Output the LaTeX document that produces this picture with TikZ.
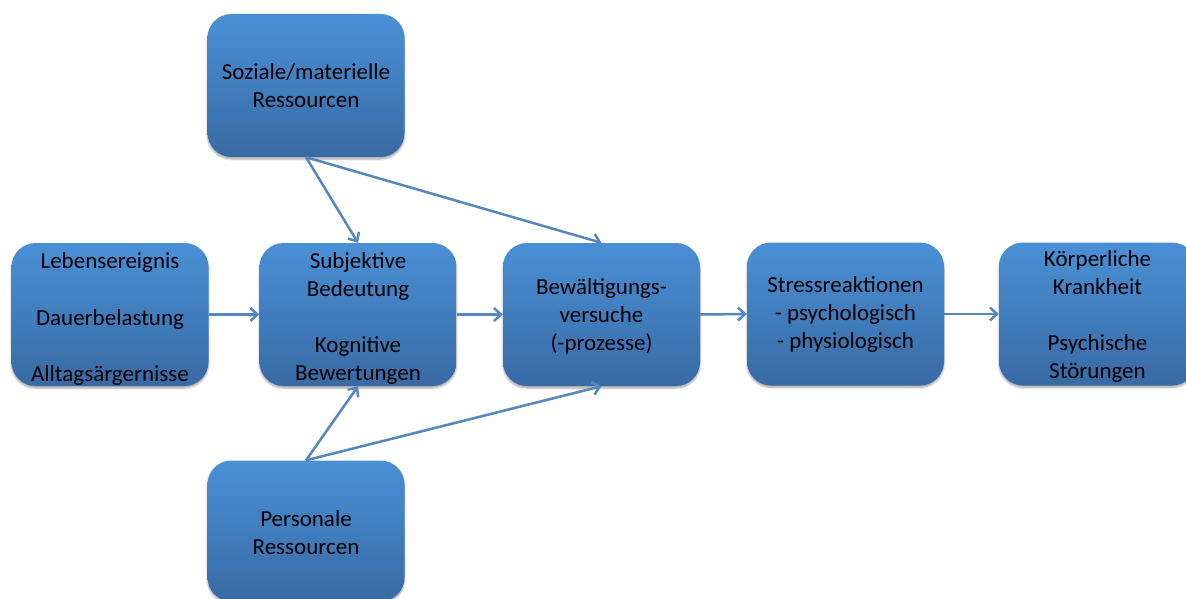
\documentclass[tikz,border=0pt]{standalone}
\usepackage{fontspec}
\setmainfont{Carlito}
\usetikzlibrary{arrows.meta,shadows.blur}
\definecolor{boxtop}{RGB}{74,144,214}
\definecolor{boxbot}{RGB}{56,106,164}
\definecolor{linkblue}{RGB}{84,134,192}
% raises the first line of a box's text so the block sits a little lower
\newcommand{\toplift}[1]{\rule{0pt}{#1}}
\tikzset{
  stagebox/.style={rectangle, rounded corners=24pt, draw=none,
    top color=boxtop, bottom color=boxbot,
    minimum width=197pt, minimum height=143pt, inner sep=0pt,
    align=center, text=black,
    font=\fontsize{23}{28}\selectfont,
    blur shadow={shadow xshift=0pt, shadow yshift=-2pt, shadow blur steps=6, shadow opacity=35}},
  link/.style={draw=linkblue, line width=2.5pt,
    -{Straight Barb[length=7pt, width=13pt, line width=2.5pt]}}
}
\begin{document}
\begin{tikzpicture}[x=1pt, y=-1pt]
\useasboundingbox (0,0) rectangle (1186,599);
\node[stagebox] (leb) at (110,314.5) {\toplift{24pt}Lebensereignis\\[29pt]Dauerbelastung\\[28pt]Alltagsärgernisse};
\node[stagebox] (subj) at (358,314.5) {\toplift{24pt}Subjektive\\Bedeutung\\[28pt]Kognitive\\Bewertungen};
\node[stagebox] (bew) at (601.5,314.5) {\toplift{20pt}Bewältigungs-\\versuche\\(-prozesse)};
\node[stagebox] (stress) at (845.5,314) {Stressreaktionen\\- psychologisch\\- physiologisch};
\node[stagebox] (koerper) at (1097.5,314) {\toplift{20pt}Körperliche\\Krankheit\\[28pt]Psychische\\Störungen};
\node[stagebox] (soz) at (306,85.5) {Soziale/materielle\\Ressourcen};
\node[stagebox, minimum height=141pt] (pers) at (306,531) {\toplift{20pt}Personale\\Ressourcen};

\draw[link] (leb.east) -- (subj.west);
\draw[link] (subj.east) -- (bew.west);
\draw[link] (bew.east) -- (stress.west);
\draw[link] (stress.east) -- (koerper.west);
\draw[link] (soz.south) -- (subj.north);
\draw[link] (soz.south) -- (bew.north);
\draw[link] (pers.north) -- (subj.south);
\draw[link] (pers.north) -- (bew.south);
\end{tikzpicture}
\end{document}
